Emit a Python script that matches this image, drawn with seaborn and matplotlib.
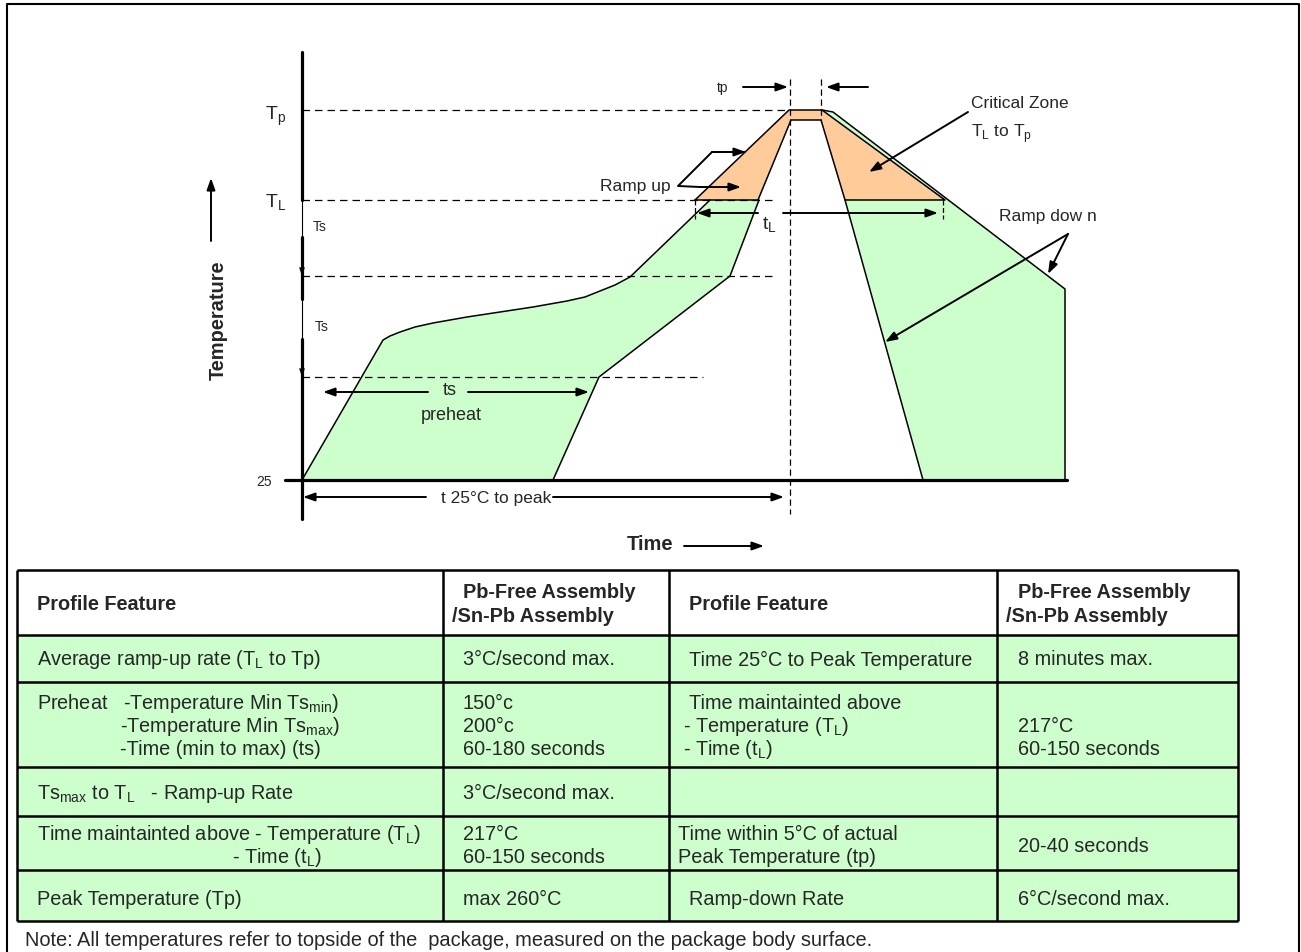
import seaborn as sns
import matplotlib.pyplot as plt

# Temperature levels of the profile (diagram units, y grows downward)
level_names = ['Tp', 'TL', 'TsMax', 'TsMin', '25']
level_y = [111, 201, 277, 378, 481]

# Upper (max) profile: fast ramp, soak curve, ramp to liquidus
upper_x = [302, 383, 390, 400, 415, 433, 450, 467, 500, 533, 567, 585, 600, 615, 630, 710]
upper_y = [481, 341, 337, 333, 328, 324, 321, 318, 313, 308, 302, 298, 292, 286, 278, 201]
# Lower (min) profile on the heating side
lower_x = [553, 599, 730, 759]
lower_y = [481, 378, 277, 201]
# Peak plateau
peak_x = [789, 822]
peak_y = [111, 111]
inner_peak_x = [759, 791, 821, 845]
inner_peak_y = [201, 121, 121, 201]
# Cooling side
cool_outer_x = [822, 833, 1065, 1065]
cool_outer_y = [111, 113, 290, 481]
cool_inner_x = [845, 923]
cool_inner_y = [201, 481]
# Critical zone (TL to Tp)
crit_x = [695, 789, 822, 945, 845, 821, 791, 758]
crit_y = [201, 111, 111, 201, 201, 121, 121, 201]

# Table contents
col_bounds = [17, 443, 669, 997, 1238]
row_bounds = [571, 636, 683, 768, 817, 871, 922]
header_feature = 'Profile Feature'
header_assembly = ['Pb-Free Assembly', '/Sn-Pb Assembly']
left_features = [
    ['Average ramp-up rate (T$_\\mathregular{L}$ to Tp)'],
    ['Preheat   -Temperature Min Ts$_\\mathregular{min}$)',
     '-Temperature Min Ts$_\\mathregular{max}$)',
     '-Time (min to max) (ts)'],
    ['Ts$_\\mathregular{max}$ to T$_\\mathregular{L}$   - Ramp-up Rate'],
    ['Time maintainted above - Temperature (T$_\\mathregular{L}$)',
     '- Time (t$_\\mathregular{L}$)'],
    ['Peak Temperature (Tp)'],
]
left_values = [
    ['3°C/second max.'],
    ['150°c', '200°c', '60-180 seconds'],
    ['3°C/second max.'],
    ['217°C', '60-150 seconds'],
    ['max 260°C'],
]
right_features = [
    ['Time 25°C to Peak Temperature'],
    ['Time maintainted above', '- Temperature (T$_\\mathregular{L}$)',
     '- Time (t$_\\mathregular{L}$)'],
    [''],
    ['Time within 5°C of actual', 'Peak Temperature (tp)'],
    ['Ramp-down Rate'],
]
right_values = [
    ['8 minutes max.'],
    ['', '217°C', '60-150 seconds'],
    [''],
    ['20-40 seconds'],
    ['6°C/second max.'],
]
note = 'Note: All temperatures refer to topside of the  package, measured on the package body surface.'

green = '#CCFFCC'
orange = '#FFCC99'

sns.set_style('white')
plt.rcParams['font.family'] = ['Liberation Sans', 'DejaVu Sans']

fig = plt.figure(figsize=(13.01, 9.53), dpi=100)
ax = fig.add_axes([0, 0, 1, 1])
ax.set_xlim(0, 1301)
ax.set_ylim(953, 0)
ax.axis('off')


def line(xs, ys, lw=1.1, **kw):
    sns.lineplot(x=xs, y=ys, sort=False, estimator=None, color='black',
                 lw=lw, ax=ax, legend=False, **kw)


def arrow(x0, y0, x1, y1, lw=1.4, hl=0.7, hw=0.25):
    ax.annotate('', xy=(x1, y1), xytext=(x0, y0),
                arrowprops=dict(arrowstyle='-|>,head_length=%s,head_width=%s' % (hl, hw),
                                color='black', lw=lw, shrinkA=0, shrinkB=0))


# outer frame
ax.plot([7, 7, 1299, 1299], [953, 5, 5, 953], color='black', lw=1.5)

# green process window
poly_x = upper_x + peak_x + cool_outer_x + [cool_inner_x[1], cool_inner_x[0]] \
    + inner_peak_x[::-1][1:] + lower_x[::-1]
poly_y = upper_y + peak_y + cool_outer_y + [cool_inner_y[1], cool_inner_y[0]] \
    + inner_peak_y[::-1][1:] + lower_y[::-1]
ax.fill(poly_x, poly_y, color=green, lw=0, zorder=1)
ax.fill(crit_x, crit_y, color=orange, lw=0, zorder=1.5)

# dashed level lines
dash = (0, (6, 4))
ax.plot([302, 790], [level_y[0]] * 2, color='black', lw=0.9, ls=dash)
ax.plot([302, 773], [level_y[1]] * 2, color='black', lw=0.9, ls=dash)
ax.plot([302, 773], [level_y[2]] * 2, color='black', lw=0.9, ls=dash)
ax.plot([302, 703], [level_y[3]] * 2, color='black', lw=0.9, ls=dash)
ax.plot([790, 790], [80, 515], color='black', lw=0.9, ls=(0, (5, 3)))
ax.plot([821, 821], [80, 121], color='black', lw=0.9, ls=(0, (5, 3)))
ax.plot([695, 695], [201, 220], color='black', lw=0.9, ls=(0, (4, 2)))
ax.plot([943, 943], [201, 220], color='black', lw=0.9, ls=(0, (4, 2)))

# profile outlines
line(upper_x, upper_y)
line(lower_x, lower_y)
line(cool_outer_x, cool_outer_y)
line(cool_inner_x, cool_inner_y)
line(crit_x + crit_x[:1], crit_y + crit_y[:1])

# axes of the diagram
ax.plot([302, 302], [53, 520], color='black', lw=0.8)
ax.plot([302, 302], [53, 201], color='black', lw=2.3)
ax.plot([302, 302], [238, 300], color='black', lw=2.3)
ax.plot([302, 302], [340, 520], color='black', lw=2.3)
ax.plot([285, 1067], [481, 481], color='black', lw=2.3)
arrow(302, 255, 302, 277, lw=0.1, hl=0.6, hw=0.2)
arrow(302, 356, 302, 378, lw=0.1, hl=0.6, hw=0.2)

# annotations
arrow(743, 88, 788, 88)
arrow(868, 88, 826, 88)
ax.plot([745, 712, 678, 700], [153, 153, 187, 188], color='black', lw=1.4)
arrow(712, 153, 746, 153)
arrow(700, 188, 741, 188)
arrow(758, 214, 697, 214)
arrow(783, 214, 938, 214)
arrow(968, 113, 869, 173)
arrow(1068, 235, 1048, 275)
arrow(1068, 235, 885, 343)
arrow(428, 393, 323, 393)
arrow(468, 393, 589, 393)
arrow(426, 498, 303, 498)
arrow(553, 498, 784, 498)
arrow(684, 547, 764, 547)
arrow(211, 242, 211, 179)

fs = 12.5
ax.text(723, 88, 'tp', fontsize=10, ha='center', va='center')
ax.text(671, 186, 'Ramp up', fontsize=fs, ha='right', va='center')
ax.text(769, 225, 't$_\\mathregular{L}$', fontsize=14, ha='center', va='center')
ax.text(971, 104, 'Critical Zone', fontsize=fs, ha='left', va='center')
ax.text(971, 134, 'T$_\\mathregular{L}$ to T$_\\mathregular{p}$', fontsize=fs, ha='left', va='center')
ax.text(999, 217, 'Ramp dow n', fontsize=fs, ha='left', va='center')
ax.text(450, 391, 'ts', fontsize=13, ha='center', va='center')
ax.text(451, 416, 'preheat', fontsize=13, ha='center', va='center')
ax.text(496, 499, 't 25°C to peak', fontsize=fs, ha='center', va='center')
ax.text(650, 545, 'Time', fontsize=14.5, fontweight='bold', ha='center', va='center')
ax.text(218, 320, 'Temperature', fontsize=14.4, fontweight='bold', ha='center', va='center',
        rotation=90)
ax.text(276, 116, 'T$_\\mathregular{p}$', fontsize=14, ha='center', va='center')
ax.text(276, 203, 'T$_\\mathregular{L}$', fontsize=14, ha='center', va='center')
ax.text(264, 482, '25', fontsize=10, ha='center', va='center')
ax.text(320, 227, 'Ts', fontsize=10, ha='center', va='center')
ax.text(322, 327, 'Ts', fontsize=10, ha='center', va='center')

# table
ax.fill_between([col_bounds[0], col_bounds[-1]], row_bounds[1], row_bounds[-1],
                color=green, lw=0, zorder=0.5)
ax.hlines(row_bounds, col_bounds[0], col_bounds[-1], color='black', lw=1.8)
ax.vlines(col_bounds, row_bounds[0], row_bounds[-1], color='black', lw=1.8)

tfs = 14.3
for cx in [37, 689]:
    ax.text(cx, 605, header_feature, fontsize=tfs, fontweight='bold', va='center')
for cx, off in [(463, 452), (1018, 1006)]:
    ax.text(cx, 593, header_assembly[0], fontsize=tfs, fontweight='bold', va='center')
    ax.text(off, 617, header_assembly[1], fontsize=tfs, fontweight='bold', va='center')

line_y = [[660], [704, 727, 750], [794], [835, 858], [900]]
left_x = [[37], [37, 120, 120], [37], [37, 232], [37]]
right_x = [[689], [689, 683, 683], [689], [678, 678], [689]]
for r in range(5):
    for i, t in enumerate(left_features[r]):
        ax.text(left_x[r][i], line_y[r][i], t, fontsize=tfs, va='center')
    for i, t in enumerate(left_values[r]):
        ax.text(463, line_y[r][i], t, fontsize=tfs, va='center')
    for i, t in enumerate(right_features[r]):
        ax.text(right_x[r][i], line_y[r][i], t, fontsize=tfs, va='center')
    if r == 3:
        ax.text(1018, 847, right_values[r][0], fontsize=tfs, va='center')
    else:
        for i, t in enumerate(right_values[r]):
            ax.text(1018, line_y[r][i], t, fontsize=tfs, va='center')

ax.text(25, 941, note, fontsize=14.4, va='center')

fig.savefig('out.png', dpi=100)
